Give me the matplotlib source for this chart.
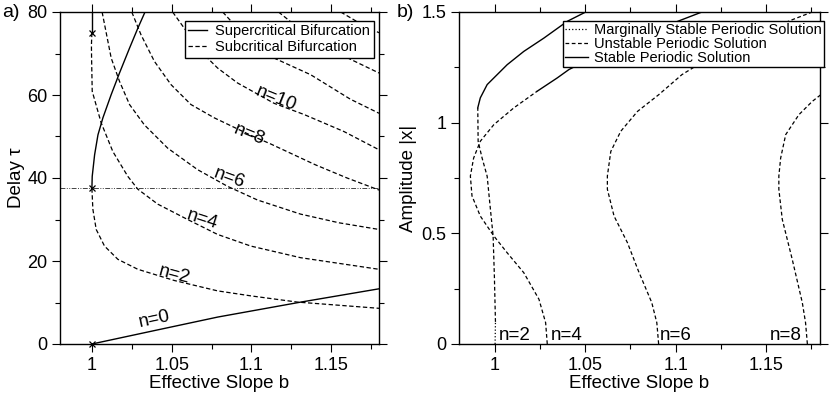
import matplotlib.pyplot as plt

plt.rcParams['font.family'] = ['Liberation Sans', 'DejaVu Sans']

# ---- a) Hopf curves, (b, tau)
n0_b = [1.0, 1.04, 1.079, 1.131, 1.18]
n0_tau = [0.0, 3.3, 6.5, 10.1, 13.3]

n2_up_b = [1.0, 1.0002, 1.0017, 1.0038, 1.0069, 1.0121, 1.0173, 1.0236, 1.0288, 1.0333]
n2_up_tau = [37.5, 40.4, 45.6, 50.4, 54.5, 60.1, 65.3, 71.3, 76.1, 80.0]
n2_lo_b = [1.0, 1.0006, 1.0027, 1.0079, 1.0163, 1.0288, 1.0517, 1.0788, 1.0996, 1.1288, 1.18]
n2_lo_tau = [37.5, 32.5, 27.6, 23.6, 20.4, 18.0, 15.3, 12.8, 11.6, 10.1, 8.6]

n4_up_b = [1.0, 1.0]
n4_up_tau = [75.0, 80.0]
n4_lo_b = [1.0, 0.9997, 0.9998, 1.0002, 1.0058, 1.0131, 1.0225, 1.0288, 1.0413, 1.06, 1.0788, 1.0996, 1.1308, 1.18]
n4_lo_tau = [75.0, 72.0, 68.9, 60.9, 53.3, 46.4, 40.4, 37.3, 33.7, 30.0, 26.4, 23.6, 20.8, 18.0]

n6_b = [1.0064, 1.0121, 1.0173, 1.0236, 1.0329, 1.0475, 1.0663, 1.085, 1.1038, 1.1308, 1.155, 1.18]
n6_tau = [80.0, 68.9, 63.3, 57.7, 52.8, 47.2, 42.0, 38.0, 34.7, 31.3, 29.2, 27.6]
n8_b = [1.025, 1.0308, 1.0392, 1.0496, 1.0621, 1.0767, 1.0996, 1.1121, 1.14, 1.16, 1.18]
n8_tau = [80.0, 74.5, 68.1, 62.5, 57.7, 54.5, 50.3, 48.2, 43.2, 40.0, 37.1]
n10_b = [1.0506, 1.0579, 1.0683, 1.0788, 1.0913, 1.1142, 1.133, 1.158, 1.18]
n10_tau = [80.0, 76.1, 70.5, 66.5, 62.9, 58.0, 55.3, 51.2, 46.8]
n12_b = [1.082, 1.0913, 1.1142, 1.1371, 1.162, 1.18]
n12_tau = [80.0, 76.1, 68.9, 64.9, 59.0, 55.6]
n14_b = [1.117, 1.13, 1.145, 1.16, 1.18]
n14_tau = [80.0, 76.0, 72.5, 69.0, 65.3]
n16_b = [1.156, 1.167, 1.18]
n16_tau = [80.0, 77.5, 75.0]

cross_b = [1.0, 1.0, 1.0]
cross_tau = [0.0, 37.5, 75.0]
tau_line = 37.5

# labels: text, b, tau, angle
lab_a = [("n=0", 1.039, 5.9, 12), ("n=2", 1.0517, 16.8, -15), ("n=4", 1.0694, 30.0, -18),
         ("n=6", 1.0863, 39.9, -20), ("n=8", 1.0988, 50.4, -22), ("n=10", 1.1154, 59.2, -22)]

# ---- b) periodic solution branches, (b, amplitude)
p2_dot_b = [1.0, 1.0002]
p2_dot_a = [0.0, 0.1]
p2_dash_b = [1.0002, 0.9996, 0.9989, 0.9974, 0.9956, 0.9928, 0.9906, 0.9904]
p2_dash_a = [0.1, 0.307, 0.488, 0.609, 0.758, 0.840, 0.916, 1.067]
p2_sol_b = [0.9904, 0.9918, 0.9956, 1.0067, 1.0159, 1.027, 1.04, 1.0502]
p2_sol_a = [1.067, 1.112, 1.172, 1.262, 1.322, 1.382, 1.458, 1.5]

p4_dash_b = [1.0289, 1.028, 1.0243, 1.0159, 1.0067, 0.9993, 0.9918, 0.9872, 0.9863, 0.9881, 0.9918, 0.9993, 1.0104, 1.0233]
p4_dash_a = [0.0, 0.096, 0.202, 0.322, 0.412, 0.488, 0.578, 0.669, 0.759, 0.840, 0.916, 0.991, 1.067, 1.142]
p4_sol_b = [1.0233, 1.0344, 1.0409, 1.07, 1.1146]
p4_sol_a = [1.142, 1.202, 1.24, 1.36, 1.5]

p6_dash_b = [1.0906, 1.0896, 1.0868, 1.0794, 1.0733, 1.0659, 1.0622, 1.0622, 1.0641, 1.0696, 1.0789, 1.0906, 1.1035, 1.13, 1.1646, 1.1757]
p6_dash_a = [0.0, 0.096, 0.187, 0.33, 0.458, 0.578, 0.699, 0.759, 0.870, 0.961, 1.051, 1.126, 1.217, 1.35, 1.465, 1.5]

p8_dash_b = [1.173, 1.172, 1.1702, 1.1646, 1.1591, 1.1572, 1.1572, 1.1582, 1.161, 1.1683, 1.1757, 1.1804]
p8_dash_a = [0.0, 0.096, 0.187, 0.383, 0.563, 0.699, 0.759, 0.840, 0.946, 1.036, 1.096, 1.126]

lab_b = [("n=2", 1.0022), ("n=4", 1.0306), ("n=6", 1.0913), ("n=8", 1.1522)]

xt = [1.0, 1.05, 1.1, 1.15]
xt_lab = ["1", "1.05", "1.1", "1.15"]
xt_minor = [1.025, 1.075, 1.125, 1.175]

dash_a = (0, (3.5, 2.0))
dash_b = (0, (3.0, 2.0))

fig = plt.figure(figsize=(8.3, 3.95), dpi=100)
ax1 = fig.add_axes([60/830, 51/395, 319/830, 332/395])
ax2 = fig.add_axes([459/830, 51/395, 361/830, 332/395])

# a)
ax1.axhline(tau_line, color='#444444', lw=0.7, ls=(0, (5, 1.5, 1, 1.5, 1, 1.5)))
ax1.plot(n0_b, n0_tau, 'k-', lw=1.0, label="Supercritical Bifurcation")
ax1.plot(n2_up_b, n2_up_tau, 'k-', lw=1.0)
ax1.plot(n4_up_b, n4_up_tau, 'k-', lw=1.0)
ax1.plot(n2_lo_b, n2_lo_tau, color='k', ls=dash_a, lw=0.9, label="Subcritical Bifurcation")
for bb, tt in [(n4_lo_b, n4_lo_tau), (n6_b, n6_tau), (n8_b, n8_tau), (n10_b, n10_tau),
               (n12_b, n12_tau), (n14_b, n14_tau), (n16_b, n16_tau)]:
    ax1.plot(bb, tt, color='k', ls=dash_a, lw=0.9)
ax1.plot(cross_b, cross_tau, 'kx', ms=5, mew=0.9, clip_on=False)
for s, bx, ty, ang in lab_a:
    ax1.text(bx, ty, s, fontsize=13.5, rotation=ang, ha='center', va='center')
ax1.set_xlim(0.98, 1.18)
ax1.set_ylim(0, 80)
ax1.set_yticks([0, 20, 40, 60, 80])
ax1.set_yticks([10, 30, 50, 70], minor=True)
ax1.set_xlabel("Effective Slope b", fontsize=13.5, labelpad=1)
ax1.set_ylabel("Delay τ", fontsize=13.5)
ax1.yaxis.set_label_coords(-0.11, 0.5)
ax1.legend(loc='upper right', bbox_to_anchor=(0.984, 0.974), fontsize=10.5, frameon=True,
           fancybox=False, edgecolor='k', framealpha=1, borderaxespad=0, borderpad=0.25,
           labelspacing=0.15, handlelength=1.3, handletextpad=0.55)

# b)
ax2.plot(p2_dot_b, p2_dot_a, color='k', ls=':', lw=0.9, label="Marginally Stable Periodic Solution")
ax2.plot(p2_dash_b, p2_dash_a, color='k', ls=dash_b, lw=0.9, label="Unstable Periodic Solution")
ax2.plot(p2_sol_b, p2_sol_a, 'k-', lw=1.0, label="Stable Periodic Solution")
ax2.plot(p4_dash_b, p4_dash_a, color='k', ls=dash_b, lw=0.9)
ax2.plot(p4_sol_b, p4_sol_a, 'k-', lw=1.0)
ax2.plot(p6_dash_b, p6_dash_a, color='k', ls=dash_b, lw=0.9)
ax2.plot(p8_dash_b, p8_dash_a, color='k', ls=dash_b, lw=0.9)
for s, bx in lab_b:
    ax2.text(bx, 0.02, s, fontsize=13.5, ha='left', va='baseline')
ax2.set_xlim(0.98, 1.18)
ax2.set_ylim(0, 1.5)
ax2.set_yticks([0, 0.5, 1.0, 1.5])
ax2.set_yticklabels(["0", "0.5", "1", "1.5"])
ax2.set_yticks([0.25, 0.75, 1.25], minor=True)
ax2.set_xlabel("Effective Slope b", fontsize=13.5, labelpad=1)
ax2.set_ylabel("Amplitude |x|", fontsize=13.5)
ax2.yaxis.set_label_coords(-0.116, 0.5)
ax2.legend(loc='upper right', bbox_to_anchor=(1.011, 0.974), fontsize=10.5, frameon=True,
           fancybox=False, edgecolor='k', framealpha=1, borderaxespad=0, borderpad=0.15,
           labelspacing=0.0, handlelength=1.6, handletextpad=0.4)

for ax in (ax1, ax2):
    ax.set_xticks(xt)
    ax.set_xticklabels(xt_lab)
    ax.set_xticks(xt_minor, minor=True)
    ax.tick_params(which='both', direction='out', top=True, right=True, labelsize=13, pad=3)
    ax.tick_params(which='major', length=6, width=0.8)
    ax.tick_params(which='minor', length=3.5, width=0.8)
    for sp in ax.spines.values():
        sp.set_linewidth(1.0)

fig.text(2/830, 1 - 17/395, "a)", fontsize=14, va='baseline')
fig.text(397/830, 1 - 17/395, "b)", fontsize=14, va='baseline')

plt.savefig("out.png", dpi=100)
